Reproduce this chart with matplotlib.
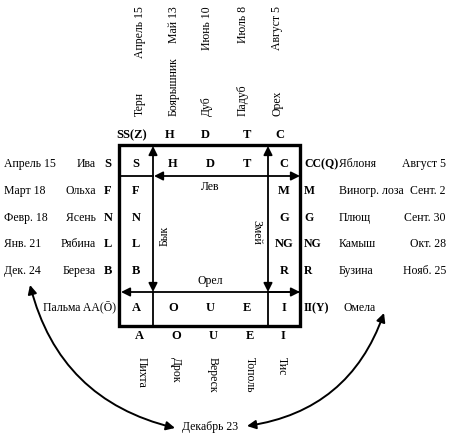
import matplotlib
matplotlib.use("Agg")
import matplotlib.pyplot as plt
from matplotlib.patches import FancyArrowPatch, Rectangle

plt.rcParams["font.family"] = ["Liberation Serif", "DejaVu Serif"]

# ---- DATA ----
top_months = ["Апрель 15", "Май 13", "Июнь 10", "Июль 8", "Август 5"]
top_trees = ["Терн", "Боярышник", "Дуб", "Падуб", "Орех"]
top_letters = ["SS(Z)", "H", "D", "T", "C"]

left_months = ["Апрель 15", "Март 18", "Февр. 18", "Янв. 21", "Дек. 24"]
left_trees = ["Ива", "Ольха", "Ясень", "Рябина", "Береза"]
left_letters = ["S", "F", "N", "L", "B"]

right_letters = ["CC(Q)", "M", "G", "NG", "R"]
right_trees = ["Яблоня", "Виногр. лоза", "Плющ", "Камыш", "Бузина"]
right_months = ["Август 5", "Сент. 2", "Сент. 30", "Окт. 28", "Нояб. 25"]

bottom_letters = ["A", "O", "U", "E", "I"]
bottom_trees = ["Пихта", "Дрок", "Вереск", "Тополь", "Тис"]

box_left = ["S", "F", "N", "L", "B", "A"]
box_right = ["C", "M", "G", "NG", "R", "I"]
box_top = ["H", "D", "T"]
box_bottom = ["O", "U", "E"]

# ---- LAYOUT (pixels) ----
W, H = 450, 439
col_x = [136, 173, 210, 247, 284]
top_x = [140, 174, 207, 243, 277]
row_y = [164, 191, 218, 244, 271]
vowel_y = 308
bx0, bx1, by0, by1 = 119, 300, 146, 327
vx_l, vx_r = 153, 268
hy_t, hy_b = 177, 293

fig = plt.figure(figsize=(W / 100, H / 100), dpi=100)
ax = fig.add_axes([0, 0, 1, 1])
ax.set_xlim(0, W)
ax.set_ylim(H, 0)
ax.axis("off")

bold = dict(fontweight="bold", fontsize=9, ha="center", va="center")
norm = dict(fontsize=8.5)

# outer box
ax.add_patch(Rectangle((bx0, by0), bx1 - bx0, by1 - by0, fill=False, lw=2.4, color="black"))

# inner lines
ax.plot([bx0, vx_l], [hy_t, hy_t], color="black", lw=1.3)
ax.plot([vx_r, bx1], [hy_b, hy_b], color="black", lw=1.3)
ax.plot([vx_l, vx_l], [hy_b, by1], color="black", lw=1.3)
ax.plot([vx_r, vx_r], [hy_b, by1], color="black", lw=1.3)


def arrow(p0, p1, style="<|-|>", rad=0.0, lw=1.3):
    a = FancyArrowPatch(p0, p1, arrowstyle=style, mutation_scale=13,
                        connectionstyle=f"arc3,rad={rad}", color="black",
                        lw=lw, shrinkA=0, shrinkB=0)
    ax.add_patch(a)


# straight arrows in box
arrow((vx_l, by0 + 1), (vx_l, hy_b))
arrow((vx_r, by0 + 1), (vx_r, hy_b))
arrow((vx_l + 1, hy_t), (bx1, hy_t))
arrow((bx0 + 2, hy_b), (bx1, hy_b))

# animal labels
ax.text(210, 187, "Лев", ha="center", va="center", **norm)
ax.text(210, 281, "Орел", ha="center", va="center", **norm)
ax.text(165, 236, "Бык", ha="center", va="center", rotation=90, **norm)
ax.text(256, 232, "Змей", ha="center", va="center", rotation=-90, **norm)

# letters inside the box
for i, s in enumerate(box_left):
    y = row_y[i] if i < len(row_y) else vowel_y
    ax.text(col_x[0], y, s, **bold)
for i, s in enumerate(box_right):
    y = row_y[i] if i < len(row_y) else vowel_y
    ax.text(col_x[4], y, s, **bold)
for i, s in enumerate(box_top):
    ax.text(col_x[i + 1], row_y[0], s, **bold)
for i, s in enumerate(box_bottom):
    ax.text(col_x[i + 1], vowel_y, s, **bold)

# top labels
for i in range(5):
    ax.text(top_x[i], 6, top_months[i], rotation=90, ha="center", va="top", **norm)
    ax.text(top_x[i], 116, top_trees[i], rotation=90, ha="center", va="bottom", **norm)
for i, xx in enumerate([132, 170, 205, 247, 280]):
    ax.text(xx, 135, top_letters[i], **bold)

# left labels
for i in range(5):
    ax.text(4, row_y[i], left_months[i], ha="left", va="center", **norm)
    ax.text(96, row_y[i], left_trees[i], ha="right", va="center", **norm)
    ax.text(108, row_y[i], left_letters[i], **bold)
ax.text(116, vowel_y, "Пальма AA(Ō)", ha="right", va="center", **norm)

# right labels
for i in range(5):
    ax.text(304, row_y[i], right_letters[i], ha="left", va="center",
            fontweight="bold", fontsize=8.5)
    ax.text(339, row_y[i], right_trees[i], ha="left", va="center", **norm)
    ax.text(446, row_y[i], right_months[i], ha="right", va="center", **norm)
ax.text(304, vowel_y, "II(Y)", ha="left", va="center", fontweight="bold", fontsize=8.5)
ax.text(343, vowel_y, "Омела", ha="left", va="center", **norm)

# bottom labels
for i in range(5):
    ax.text([139, 176, 213, 250, 283][i], 336, bottom_letters[i], **bold)
    ax.text([142, 176, 213, 250, 282][i], 357, bottom_trees[i], rotation=-90,
            ha="center", va="top", **norm)

ax.text(210, 427, "Декабрь 23", ha="center", va="center", **norm)

# curved arrows
arrow((175, 429), (30, 286), rad=-0.3, lw=1.4)
arrow((247, 427), (384, 314), rad=0.3, lw=1.4)

fig.savefig("out.png", dpi=100)
